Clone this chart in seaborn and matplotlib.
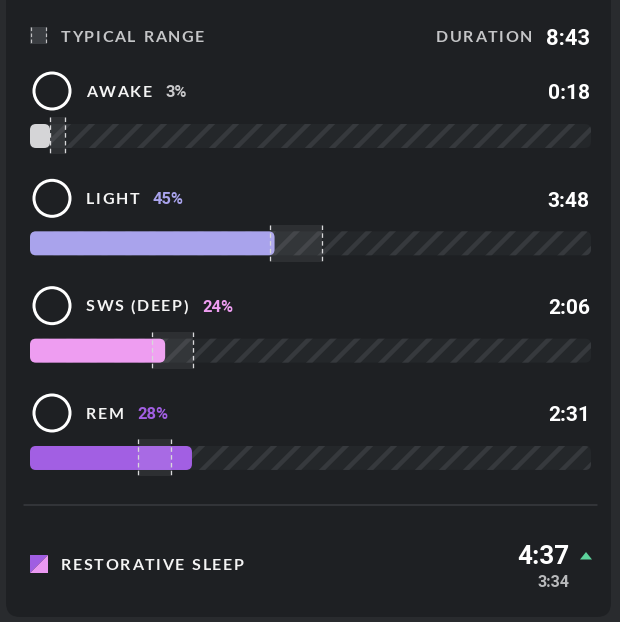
import numpy as np
import pandas as pd
import seaborn as sns
import matplotlib
matplotlib.use("Agg")
import matplotlib.pyplot as plt
from matplotlib.patches import FancyBboxPatch, Circle, Rectangle, Polygon
from matplotlib.font_manager import FontProperties
from matplotlib.textpath import TextToPath

# ---------------- data ----------------
stages = ["AWAKE", "LIGHT", "SWS (DEEP)", "REM"]
percents = ["3%", "45%", "24%", "28%"]
minutes = [18, 228, 126, 151]
durations = ["0:18", "3:48", "2:06", "2:31"]
range_low = [19, 224, 114, 101]
range_high = [33, 272, 152, 131]
total_minutes = 523
total_label = "8:43"
header_left = "TYPICAL RANGE"
header_right = "DURATION"
restorative_title = "RESTORATIVE SLEEP"
restorative_value = "4:37"
restorative_prev = "3:34"
bar_colors = ["#d5d5d7", "#a9a3ec", "#ee9df1", "#a25fe3"]
pct_colors = ["#c9c9cb", "#a9a3ec", "#ee9df1", "#a25fe3"]

# ---------------- style ----------------
sns.set_theme(style="dark")
plt.rcParams["font.family"] = ["Lato", "DejaVu Sans"]
plt.rcParams["hatch.linewidth"] = 4.5

W, H = 620, 622
DPI = 72
BG = "#1e2023"
OUTER = "#292b2e"
fig = plt.figure(figsize=(W / DPI, H / DPI), dpi=DPI, facecolor=OUTER)

bg = fig.add_axes([0, 0, 1, 1], zorder=0)
bg.set_xlim(0, W)
bg.set_ylim(H, 0)
bg.axis("off")
bg.add_patch(FancyBboxPatch((6, -40), 605, 657, boxstyle="round,pad=0,rounding_size=14",
                            fc=BG, ec="none"))

# layout (pixels)
track_left, track_width = 30, 561
row0, row_step = 136, 107.33
bar_h = 24 / row_step
box_h = 37 / row_step

# ---------------- data axes ----------------
ax = fig.add_axes([track_left / W, 0, track_width / W, 1], zorder=2)
ax.patch.set_alpha(0)
df = pd.DataFrame({"stage": stages, "minutes": minutes})
sns.barplot(data=df, x="minutes", y="stage", hue="stage", palette=bar_colors,
            orient="h", width=bar_h, saturation=1, legend=False, ax=ax, zorder=2)
ax.set_xlim(0, total_minutes)
ax.set_ylim((H - row0) / row_step, -row0 / row_step)
ax.axis("off")

aspect = track_width / (row_step * total_minutes)
r_x = 6 * total_minutes / track_width

# rounded bars
for p in list(ax.patches):
    x, y = p.get_xy()
    w, h = p.get_width(), p.get_height()
    fc = p.get_facecolor()
    p.remove()
    ax.add_patch(FancyBboxPatch((x, y), max(w, 20 * total_minutes / track_width), h,
                                boxstyle=f"round,pad=0,rounding_size={r_x}",
                                mutation_aspect=aspect, fc=fc, ec="none", lw=0, zorder=2))

# hatched tracks
for i in range(len(stages)):
    ax.add_patch(FancyBboxPatch((0, i - bar_h / 2), total_minutes, bar_h,
                                boxstyle=f"round,pad=0,rounding_size={r_x}",
                                mutation_aspect=aspect, fc="#24272a", ec="#36393d",
                                lw=0, hatch="/", zorder=1))

# typical ranges
lows = np.array(range_low)
highs = np.array(range_high)
ypos = np.arange(len(stages))
ax.barh(ypos, highs - lows, left=lows, height=box_h, color="white", alpha=0.07,
        lw=0, zorder=3)
ax.vlines(np.concatenate([lows, highs]), np.concatenate([ypos, ypos]) - box_h / 2,
          np.concatenate([ypos, ypos]) + box_h / 2, colors="#d8d8da",
          linestyles=(0, (3.5, 2.5)), lw=1.3, zorder=4)

# ---------------- text helpers ----------------
ttp = TextToPath()


def adv(s, prop):
    if not s:
        return 0.0
    w1 = ttp.get_text_width_height_descent(s + "|", prop, ismath=False)[0]
    w0 = ttp.get_text_width_height_descent("|", prop, ismath=False)[0]
    return w1 - w0


def spaced(x, yc, s, fs, color, track, space_extra=1.0, family="Lato", weight="bold", ha="left"):
    prop = FontProperties(family=family, weight=weight, size=fs)
    offs = []
    extra = 0.0
    for i, ch in enumerate(s):
        offs.append(adv(s[:i], prop) + track * i + extra)
        if ch == " ":
            extra += space_extra
    total = adv(s, prop) + track * (len(s) - 1) + extra
    x0 = x if ha == "left" else x - total
    yb = yc + 0.36 * fs
    for ch, o in zip(s, offs):
        if ch == " ":
            continue
        bg.text(x0 + o, yb, ch, fontproperties=prop, color=color, ha="left", va="baseline")
    return x0 + total


def num(x, yc, s, fs, color, ha="right"):
    bg.text(x, yc + 0.355 * fs, s, family=["Roboto", "DejaVu Sans"], weight="bold",
            fontsize=fs, color=color, ha=ha, va="baseline")


LBL_FS, LBL_TR = 16, 1.6

# header
bg.add_patch(Rectangle((30, 27), 17, 17, fc="#3a3d41", ec="none"))
bg.vlines([31, 46], 27, 44, colors="#c0c0c2", linestyles=(0, (3, 2)), lw=1.2)
spaced(61, 36, header_left, LBL_FS, "#c4c5c7", LBL_TR)
spaced(532, 36, header_right, LBL_FS, "#c4c5c7", LBL_TR, ha="right")
num(590, 37, total_label, 22, "white")

# rows
for i, st in enumerate(stages):
    cy = row0 + row_step * i - 45
    bg.add_patch(Circle((52, cy), 18, fill=False, ec="white", lw=3))
    end = spaced(86, cy, st, LBL_FS, "#f4f4f4", LBL_TR, space_extra=0.0)
    num(end + 14, cy, percents[i], 16.5, pct_colors[i], ha="left")
    num(590, cy + 1, durations[i], 21, "white")

# separator
bg.plot([24, 597], [505, 505], color="#393b3f", lw=1.5)

# restorative
bg.add_patch(Polygon([(30, 555), (48, 555), (30, 573)], closed=True, fc="#a05ee2", ec="none"))
bg.add_patch(Polygon([(48, 555), (48, 573), (30, 573)], closed=True, fc="#ea98f1", ec="none"))
spaced(61, 564, restorative_title, LBL_FS, "#f4f4f4", LBL_TR)
num(570, 555, restorative_value, 26, "white")
bg.add_patch(Polygon([(580, 559.5), (592, 559.5), (586, 552)], closed=True,
                     fc="#5dd39c", ec="none"))
num(569, 581, restorative_prev, 16, "#b9babc")

fig.savefig("out.png", dpi=DPI, facecolor=OUTER)
